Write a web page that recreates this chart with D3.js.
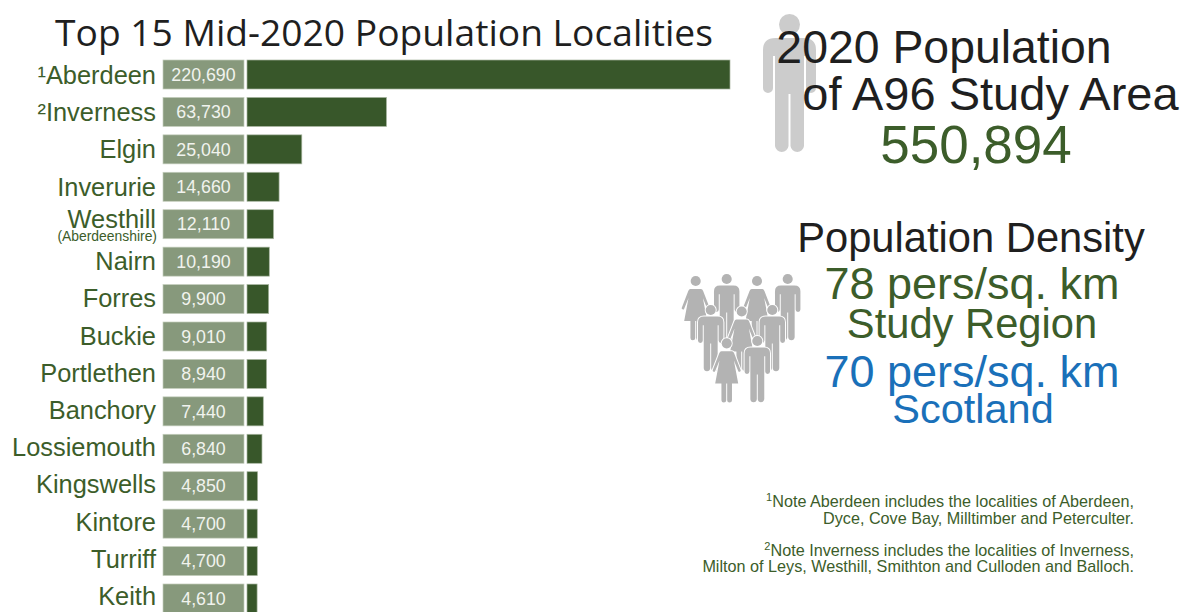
<!DOCTYPE html>
<html>
<head>
<meta charset="utf-8">
<script src="https://cdn.jsdelivr.net/npm/d3@7"></script>
<style>
  html, body { margin: 0; padding: 0; background: #fff; }
  svg { display: block; }
  text { font-family: "Liberation Sans", Arial, sans-serif; }
</style>
</head>
<body>
<div id="chart"></div>
<script>
// Locality populations, mid-2020
const localities = ["\u00b9Aberdeen", "\u00b2Inverness", "Elgin", "Inverurie", "Westhill", "Nairn", "Forres", "Buckie", "Portlethen", "Banchory", "Lossiemouth", "Kingswells", "Kintore", "Turriff", "Keith"];
const population = [220690, 63730, 25040, 14660, 12110, 10190, 9900, 9010, 8940, 7440, 6840, 4850, 4700, 4700, 4610];
const subLabels = { "Westhill": "(Aberdeenshire)" };

const titleText = "Top 15 Mid-2020 Population Localities";
const noteLines = [
  { sup: "1", text: "Note Aberdeen includes the localities of Aberdeen," },
  { sup: "", text: "Dyce, Cove Bay, Milltimber and Peterculter." },
  { sup: "2", text: "Note Inverness includes the localities of Inverness," },
  { sup: "", text: "Milton of Leys, Westhill, Smithton and Culloden and Balloch." }
];
const noteBaselines = [507, 524, 556, 572];

const GREEN = "#3c5d2a", BOX = "#87997c", BLUE = "#1a70b9", INK = "#1f1f1f";

const svg = d3.select("#chart").append("svg").attr("width", 1191).attr("height", 612);

const x = d3.scaleLinear().domain([0, 220690]).range([247, 730]);
const y = d3.scaleBand().domain(localities).range([60, 613]).paddingInner(0.225).paddingOuter(0);
// Name labels run on a slightly tighter pitch than the bars
const labelY = d3.scalePoint().domain(localities).range([84, 605]);
const fmt = d3.format(",");

svg.append("text").attr("x", 384).attr("y", 45.5).attr("text-anchor", "middle")
  .style("font-family", '"Open Sans", sans-serif').style("font-size", "37.2px").attr("fill", INK)
  .text(titleText);

// Value plates and proportional bars
const rows = svg.selectAll("g.row").data(localities.map((name, i) => ({ name, value: population[i] })))
  .join("g").attr("class", "row");

rows.append("rect").attr("x", 163).attr("width", 81)
  .attr("y", d => y(d.name)).attr("height", y.bandwidth())
  .attr("fill", BOX).attr("stroke", "#c4cebd").attr("stroke-width", 0.7);

rows.append("rect").attr("x", x(0)).attr("width", d => x(d.value) - x(0))
  .attr("y", d => y(d.name)).attr("height", y.bandwidth())
  .attr("fill", "#38572a").attr("stroke", "#a8b6a0").attr("stroke-width", 0.7);

rows.append("text").attr("x", 203.5).attr("y", d => y(d.name) + y.bandwidth() / 2 + 6.2)
  .attr("text-anchor", "middle").attr("fill", "#f1f3ee").style("font-size", "17.8px")
  .text(d => fmt(d.value));

rows.append("text").attr("x", 156)
  .attr("y", d => labelY(d.name) - (subLabels[d.name] ? 4.5 : 0))
  .attr("text-anchor", "end").attr("fill", GREEN).style("font-size", "25.4px")
  .text(d => d.name);

rows.filter(d => subLabels[d.name]).append("text").attr("x", 157)
  .attr("y", d => y(d.name) + y.bandwidth() / 2 + 16.5)
  .attr("text-anchor", "end").attr("fill", GREEN).style("font-size", "13.9px")
  .text(d => subLabels[d.name]);

// Pictograms share one local coordinate system: centred on x = 0, head top at y = 0
const manBody = "M-26.5 36Q-26.5 24-14 24H14Q26.5 24 26.5 36V74A5 5 0 0 1 16.5 74V42H14.5V132A6.8 6.8 0 0 1 1 132V80H-1V132A6.8 6.8 0 0 1-14.5 132V42H-16.5V74A5 5 0 0 1-26.5 74Z";
const womanBody = "M-11 27H11Q14 27 15.5 31L29 66A2.6 2.6 0 0 1 24 68L15 46L24 94H11V129A5 5 0 0 1 1 129V94H-1V129A5 5 0 0 1-11 129V94H-24L-15 46L-24 68A2.6 2.6 0 0 1-29 66L-15.5 31Q-14 27-11 27Z";

function person(g, kind, cx, top, scale, fill, outline) {
  const p = g.append("g").attr("transform", `translate(${cx},${top}) scale(${scale})`).attr("fill", fill);
  const shapes = [p.append("circle").attr("cy", 10.5).attr("r", 10.5),
                  p.append("path").attr("d", kind === "man" ? manBody : womanBody)];
  if (outline) shapes.forEach(s => s.attr("stroke", "#fff").attr("stroke-width", outline).attr("paint-order", "stroke"));
}

person(svg.append("g"), "man", 789.5, 14, 1, "#cccccc", 0);

const crowd = svg.append("g");
[
  ["woman", 695.7, 276], ["man", 726.7, 274], ["woman", 757, 276], ["man", 787.7, 274],
  ["man", 710.7, 305], ["woman", 741.7, 306.5], ["man", 772.3, 305],
  ["woman", 726.7, 338.3], ["man", 757.3, 336]
].forEach(([kind, cx, top]) => person(crowd, kind, cx, top, 0.48, "#b3b3b3", 4));

// Headline figures
const headlines = [
  { t: "2020 Population", x: 944, y: 63, s: 46.4, c: INK },
  { t: "of A96 Study Area", x: 990.5, y: 110, s: 47, c: INK },
  { t: "550,894", x: 976, y: 163, s: 53, c: GREEN },
  { t: "Population Density", x: 971, y: 252, s: 41.7, c: INK },
  { t: "78 pers/sq. km", x: 972, y: 299, s: 45, c: GREEN },
  { t: "Study Region", x: 972, y: 338, s: 41.7, c: GREEN },
  { t: "70 pers/sq. km", x: 972, y: 387, s: 45, c: BLUE },
  { t: "Scotland", x: 973, y: 423, s: 41.5, c: BLUE }
];
svg.selectAll("text.head").data(headlines).join("text").attr("class", "head")
  .attr("x", d => d.x).attr("y", d => d.y).attr("text-anchor", "middle")
  .attr("fill", d => d.c).style("font-size", d => d.s + "px").text(d => d.t);

// Footnotes, right aligned
const notes = svg.selectAll("text.note").data(noteLines).join("text").attr("class", "note")
  .attr("x", 1134).attr("y", (d, i) => noteBaselines[i]).attr("text-anchor", "end")
  .attr("fill", GREEN).style("font-size", "16.2px");
notes.filter(d => d.sup).append("tspan").attr("dy", -6).style("font-size", "11px").text(d => d.sup);
notes.append("tspan").attr("dy", d => d.sup ? 6 : 0).text(d => d.text);
</script>
</body>
</html>
